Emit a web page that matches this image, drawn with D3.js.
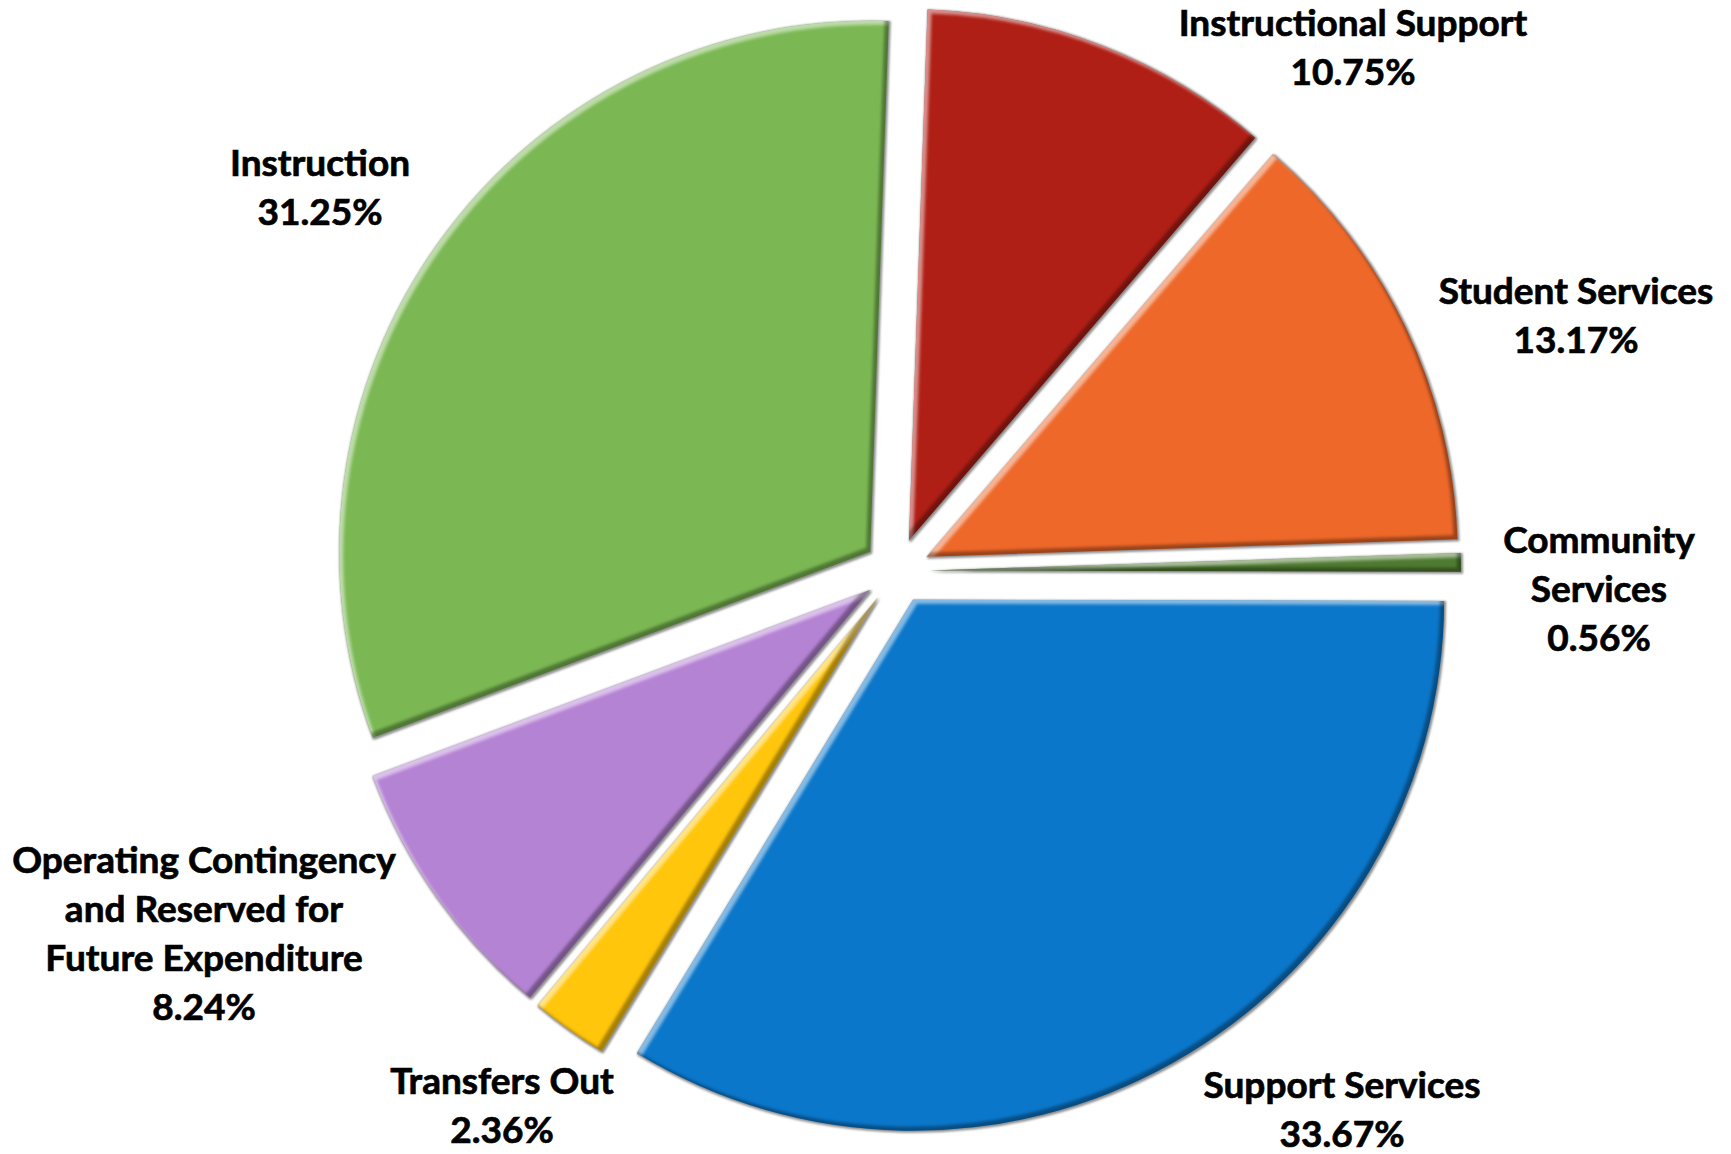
<!DOCTYPE html>
<html>
<head>
<meta charset="utf-8">
<title>Expenditure by Function</title>
<script src="https://cdn.jsdelivr.net/npm/d3@7"></script>
<style>
  html, body { margin: 0; padding: 0; background: #ffffff; }
  svg { display: block; }
  .label {
    font-family: Lato, "Open Sans", sans-serif; font-weight: 700; fill: #000;
    stroke: #000; stroke-width: 0.7px; paint-order: stroke;
  }
</style>
</head>
<body>
<svg id="chart" width="1731" height="1154"></svg>
<script>
// Budget shares by function (percent of total), clockwise from the top.
const categories = [
  "Instructional Support",
  "Student Services",
  "Community Services",
  "Support Services",
  "Transfers Out",
  "Operating Contingency and Reserved for Future Expenditure",
  "Instruction"
];
const shares = [10.75, 13.17, 0.56, 33.67, 2.36, 8.24, 31.25];
const sliceColors = ["#B01F16", "#EE682A", "#4F7B31", "#0B77CA", "#FFC60B", "#B583D4", "#7BB853"];
// Label text, split into the lines it is set on.
const labelLines = [
  ["Instructional Support"],
  ["Student Services"],
  ["Community", "Services"],
  ["Support Services"],
  ["Transfers Out"],
  ["Operating Contingency", "and Reserved for", "Future Expenditure"],
  ["Instruction"]
];

const W = 1731, H = 1154;
const cx = 897, cy = 571, R = 531, explode = 33;
const rotation = 2 * Math.PI / 180;
const lineHeight = 49;
const fontSize = 37;
// Where each label block sits (centre x, first baseline y).
const labelAnchors = [
  [1353, 36], [1576, 304], [1599, 553], [1342, 1098],
  [502, 1094], [204, 873], [320, 176]
];

const svg = d3.select("#chart");
const defs = svg.append("defs");

// Bevelled look: grey rim outside, light inner edge at top-left, dark inner edge at bottom-right.
const f = defs.append("filter").attr("id", "bevel")
  .attr("filterUnits", "userSpaceOnUse")
  .attr("x", -2000).attr("y", -2000).attr("width", 4000).attr("height", 4000)
  .attr("color-interpolation-filters", "sRGB");
f.append("feMorphology").attr("in", "SourceAlpha").attr("operator", "dilate").attr("radius", 1).attr("result", "dil");
f.append("feGaussianBlur").attr("in", "dil").attr("stdDeviation", 1.1).attr("result", "dilb");
f.append("feOffset").attr("in", "dilb").attr("dx", 1.2).attr("dy", 1.2).attr("result", "rim");
f.append("feFlood").attr("flood-color", "#7a7a7a").attr("flood-opacity", 0.85).attr("result", "rimcol");
f.append("feComposite").attr("in", "rimcol").attr("in2", "rim").attr("operator", "in").attr("result", "rimc");

f.append("feComponentTransfer").attr("in", "SourceAlpha").attr("result", "inv")
  .append("feFuncA").attr("type", "table").attr("tableValues", "1 0");

f.append("feOffset").attr("in", "inv").attr("dx", 4).attr("dy", 4).attr("result", "invTL");
f.append("feGaussianBlur").attr("in", "invTL").attr("stdDeviation", 1.6).attr("result", "invTLb");
f.append("feFlood").attr("flood-color", "#ffffff").attr("flood-opacity", 0.5).attr("result", "hiCol");
f.append("feComposite").attr("in", "hiCol").attr("in2", "invTLb").attr("operator", "in").attr("result", "hi1");
f.append("feComposite").attr("in", "hi1").attr("in2", "SourceAlpha").attr("operator", "in").attr("result", "hi");

f.append("feOffset").attr("in", "inv").attr("dx", -4).attr("dy", -4).attr("result", "invBR");
f.append("feGaussianBlur").attr("in", "invBR").attr("stdDeviation", 1.6).attr("result", "invBRb");
f.append("feFlood").attr("flood-color", "#000000").attr("flood-opacity", 0.35).attr("result", "loCol");
f.append("feComposite").attr("in", "loCol").attr("in2", "invBRb").attr("operator", "in").attr("result", "lo1");
f.append("feComposite").attr("in", "lo1").attr("in2", "SourceAlpha").attr("operator", "in").attr("result", "lo");

const merge = f.append("feMerge");
["rimc", "SourceGraphic", "hi", "lo"].forEach(n => merge.append("feMergeNode").attr("in", n));

const pie = d3.pie().sort(null).value(d => d)
  .startAngle(rotation).endAngle(rotation + 2 * Math.PI);
const arc = d3.arc().innerRadius(0).outerRadius(R);
const arcs = pie(shares);

const pieG = svg.append("g").attr("transform", `translate(${cx},${cy})`);
pieG.selectAll("g.slice")
  .data(arcs)
  .join("g")
  .attr("class", "slice")
  .attr("transform", d => {
    const mid = (d.startAngle + d.endAngle) / 2;
    return `translate(${explode * Math.sin(mid)},${-explode * Math.cos(mid)})`;
  })
  .append("path")
  .attr("d", arc)
  .attr("fill", (d, i) => sliceColors[i])
  .attr("filter", "url(#bevel)");

// Labels: name lines followed by the percentage.
const labels = svg.append("g");
arcs.forEach((d, i) => {
  const [lx, ly] = labelAnchors[i];
  const lines = labelLines[i].concat([d3.format(".2f")(d.data) + "%"]);
  const t = labels.append("text")
    .attr("class", "label")
    .attr("text-anchor", "middle")
    .attr("font-size", fontSize)
    .attr("x", lx).attr("y", ly);
  lines.forEach((ln, k) => {
    t.append("tspan").attr("x", lx).attr("y", ly + k * lineHeight).text(ln);
  });
});
</script>
</body>
</html>
